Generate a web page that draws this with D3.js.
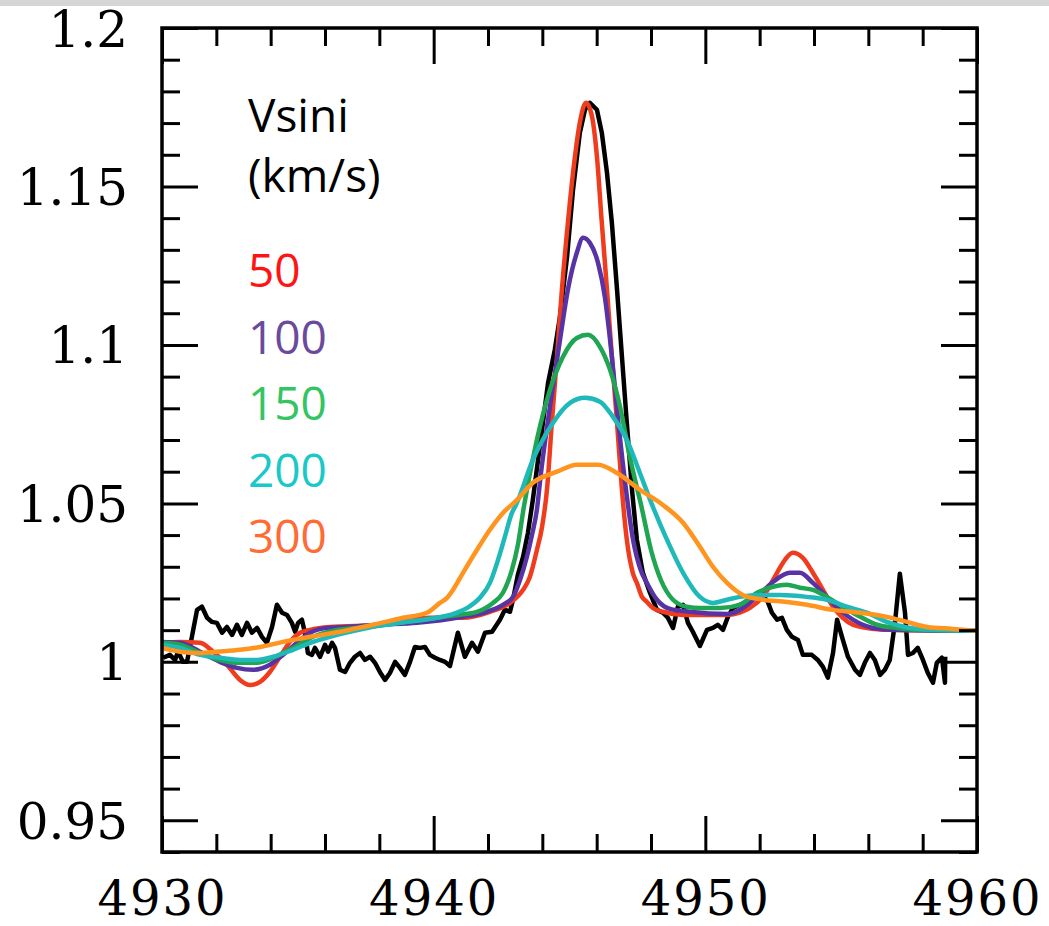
<!DOCTYPE html>
<html>
<head>
<meta charset="utf-8">
<script src="https://cdn.jsdelivr.net/npm/d3@7"></script>
<style>
  html, body { margin: 0; padding: 0; background: #fff; }
  svg { display: block; }
</style>
</head>
<body>
<div id="chart"></div>
<script>
// observed spectrum [wavelength (A), normalised flux]
const observed = [
  [4930.04,1.0013],[4930.29,1.0022],[4930.48,1.0006],[4930.59,1.0032],[4930.77,1.0000],[4930.92,1.0000],
  [4931.10,1.0079],[4931.29,1.0164],[4931.47,1.0174],[4931.66,1.0139],[4931.84,1.0126],[4932.02,1.0123],
  [4932.21,1.0092],[4932.39,1.0110],[4932.58,1.0085],[4932.76,1.0117],[4932.94,1.0085],[4933.13,1.0123],
  [4933.31,1.0092],[4933.50,1.0107],[4933.68,1.0079],[4933.86,1.0060],[4934.05,1.0110],[4934.23,1.0180],
  [4934.42,1.0155],[4934.60,1.0148],[4934.78,1.0123],[4934.90,1.0095],[4935.01,1.0123],[4935.15,1.0133],
  [4935.26,1.0092],[4935.37,1.0028],[4935.52,1.0022],[4935.63,1.0044],[4935.82,1.0016],[4936.00,1.0054],
  [4936.11,1.0032],[4936.26,1.0060],[4936.37,1.0044],[4936.55,0.9975],[4936.74,0.9968],[4936.92,0.9997],
  [4937.10,1.0016],[4937.29,1.0028],[4937.47,1.0006],[4937.66,1.0016],[4937.84,0.9997],[4938.02,0.9968],
  [4938.21,0.9943],[4938.39,0.9965],[4938.58,1.0000],[4938.76,0.9981],[4938.94,0.9959],[4939.13,1.0000],
  [4939.31,1.0047],[4939.50,1.0044],[4939.68,1.0047],[4939.86,1.0022],[4940.05,1.0013],[4940.23,1.0006],
  [4940.42,1.0000],[4940.60,0.9987],[4940.89,1.0092],[4941.15,1.0016],[4941.41,1.0060],[4941.63,1.0032],
  [4941.89,1.0092],[4942.15,1.0095],[4942.44,1.0133],[4942.62,1.0164],[4942.81,1.0158],[4942.92,1.0196],
  [4943.10,1.0275],[4943.29,1.0331],[4943.47,1.0407],[4943.65,1.0511],[4944.02,1.0754],[4944.21,1.0880],
  [4944.46,1.0985],[4944.65,1.1089],[4944.91,1.1278],[4945.13,1.1490],[4945.38,1.1669],[4945.57,1.1742],
  [4945.75,1.1764],[4946.01,1.1742],[4946.19,1.1669],[4946.38,1.1543],[4946.56,1.1385],[4946.75,1.1174],
  [4946.93,1.0963],[4947.11,1.0754],[4947.30,1.0543],[4947.48,1.0385],[4947.70,1.0281],[4947.96,1.0218],
  [4948.22,1.0164],[4948.44,1.0155],[4948.62,1.0139],[4948.81,1.0107],[4948.99,1.0174],[4949.18,1.0180],
  [4949.36,1.0123],[4949.54,1.0095],[4949.80,1.0050],[4950.06,1.0101],[4950.28,1.0107],[4950.46,1.0117],
  [4950.65,1.0101],[4950.83,1.0142],[4951.02,1.0170],[4951.27,1.0180],[4951.53,1.0189],[4951.83,1.0205],
  [4952.12,1.0211],[4952.30,1.0189],[4952.45,1.0155],[4952.64,1.0133],[4952.82,1.0139],[4953.00,1.0101],
  [4953.19,1.0079],[4953.41,1.0069],[4953.59,1.0022],[4953.92,1.0022],[4954.14,1.0006],[4954.33,0.9984],
  [4954.51,0.9950],[4954.70,1.0028],[4954.85,1.0133],[4955.03,1.0079],[4955.25,1.0016],[4955.51,0.9975],
  [4955.69,0.9959],[4955.87,0.9997],[4956.06,1.0028],[4956.24,1.0006],[4956.43,0.9959],[4956.61,0.9975],
  [4956.79,1.0006],[4956.98,1.0123],[4957.16,1.0278],[4957.35,1.0155],[4957.46,1.0022],[4957.64,1.0028],
  [4957.82,1.0044],[4958.01,1.0006],[4958.19,0.9965],[4958.38,0.9934],[4958.52,0.9997],[4958.71,1.0013],
  [4958.82,0.9934],[4958.83,1.0016]
];

// rotationally broadened models
const vsini50 = [
  [4930.00,1.0060],[4930.66,1.0063],[4931.40,1.0060],[4931.88,1.0032],[4932.39,0.9991],[4932.87,0.9943],
  [4933.24,0.9927],[4933.61,0.9937],[4933.97,0.9968],[4934.34,1.0016],[4934.71,1.0063],[4935.08,1.0092],
  [4935.45,1.0101],[4936.18,1.0110],[4938.02,1.0117],[4939.86,1.0139],[4941.08,1.0139],[4942.07,1.0158],
  [4942.81,1.0186],[4943.29,1.0227],[4943.54,1.0268],[4943.80,1.0353],[4943.99,1.0426],[4944.17,1.0543],
  [4944.35,1.0754],[4944.54,1.0963],[4944.72,1.1174],[4944.94,1.1385],[4945.20,1.1594],[4945.38,1.1701],
  [4945.61,1.1764],[4945.83,1.1720],[4946.01,1.1594],[4946.19,1.1385],[4946.38,1.1174],[4946.56,1.0963],
  [4946.75,1.0754],[4946.93,1.0543],[4947.11,1.0385],[4947.33,1.0281],[4947.48,1.0249],[4947.67,1.0205],
  [4947.85,1.0189],[4948.07,1.0170],[4948.44,1.0158],[4949.18,1.0148],[4950.80,1.0148],[4951.27,1.0155],
  [4951.64,1.0170],[4952.12,1.0205],[4952.64,1.0281],[4952.93,1.0322],[4953.22,1.0344],[4953.59,1.0328],
  [4953.96,1.0281],[4954.33,1.0227],[4954.70,1.0174],[4955.06,1.0139],[4955.43,1.0117],[4955.95,1.0107],
  [4956.79,1.0101],[4960.00,1.0098]
];
const vsini100 = [
  [4930.00,1.0063],[4930.66,1.0060],[4931.40,1.0032],[4932.13,1.0000],[4932.76,0.9981],[4933.35,0.9975],
  [4933.97,0.9991],[4934.45,1.0022],[4934.97,1.0060],[4935.45,1.0092],[4936.07,1.0107],[4936.81,1.0110],
  [4937.91,1.0117],[4939.39,1.0123],[4941.08,1.0142],[4941.96,1.0158],[4942.55,1.0180],[4942.92,1.0205],
  [4943.18,1.0259],[4943.43,1.0331],[4943.62,1.0401],[4943.80,1.0480],[4943.95,1.0596],[4944.28,1.0805],
  [4944.65,1.1016],[4944.94,1.1174],[4945.27,1.1291],[4945.50,1.1338],[4945.75,1.1322],[4946.05,1.1259],
  [4946.30,1.1152],[4946.56,1.0963],[4946.80,1.0754],[4947.08,1.0543],[4947.34,1.0385],[4947.62,1.0290],
  [4947.85,1.0249],[4948.22,1.0196],[4948.70,1.0167],[4949.43,1.0158],[4950.80,1.0151],[4951.27,1.0164],
  [4951.90,1.0205],[4952.49,1.0252],[4953.11,1.0281],[4953.48,1.0281],[4953.96,1.0249],[4954.47,1.0205],
  [4954.95,1.0164],[4955.43,1.0133],[4956.17,1.0107],[4956.90,1.0101],[4960.00,1.0098]
];
const vsini150 = [
  [4930.00,1.0060],[4930.66,1.0054],[4931.40,1.0028],[4932.13,1.0006],[4932.87,0.9997],[4933.50,0.9997],
  [4934.09,1.0013],[4934.82,1.0044],[4935.56,1.0079],[4936.44,1.0101],[4937.55,1.0110],[4938.76,1.0123],
  [4940.12,1.0139],[4940.86,1.0148],[4941.59,1.0158],[4942.18,1.0186],[4942.55,1.0218],[4942.88,1.0290],
  [4943.10,1.0369],[4943.32,1.0489],[4943.80,1.0701],[4944.28,1.0858],[4944.76,1.0963],[4945.27,1.1022],
  [4945.68,1.1032],[4946.12,1.0994],[4946.49,1.0922],[4946.86,1.0805],[4947.22,1.0647],[4947.65,1.0489],
  [4948.00,1.0353],[4948.36,1.0259],[4948.81,1.0196],[4949.32,1.0174],[4949.80,1.0170],[4950.54,1.0170],
  [4951.27,1.0180],[4951.90,1.0218],[4952.49,1.0237],[4953.00,1.0243],[4953.48,1.0234],[4953.96,1.0227],
  [4954.47,1.0205],[4954.95,1.0180],[4955.58,1.0148],[4956.32,1.0117],[4957.05,1.0107],[4957.79,1.0101],
  [4960.00,1.0098]
];
const vsini200 = [
  [4930.00,1.0054],[4930.66,1.0044],[4931.40,1.0022],[4932.13,1.0013],[4932.87,1.0006],[4933.50,1.0006],
  [4934.09,1.0016],[4934.82,1.0038],[4935.56,1.0063],[4936.44,1.0085],[4937.55,1.0107],[4938.76,1.0123],
  [4940.12,1.0139],[4940.60,1.0148],[4941.23,1.0170],[4941.70,1.0202],[4942.07,1.0249],[4942.37,1.0322],
  [4942.62,1.0394],[4942.88,1.0470],[4943.03,1.0495],[4943.65,1.0637],[4944.39,1.0754],[4945.02,1.0817],
  [4945.57,1.0833],[4946.12,1.0821],[4946.60,1.0773],[4947.11,1.0701],[4947.59,1.0596],[4948.07,1.0489],
  [4948.59,1.0385],[4949.18,1.0281],[4949.80,1.0205],[4950.28,1.0186],[4950.80,1.0196],[4951.27,1.0205],
  [4952.01,1.0211],[4952.75,1.0211],[4953.74,1.0205],[4954.47,1.0196],[4955.21,1.0174],[4955.95,1.0155],
  [4956.68,1.0126],[4957.53,1.0107],[4958.38,1.0101],[4960.00,1.0098]
];
const vsini300 = [
  [4930.00,1.0044],[4930.66,1.0032],[4931.40,1.0028],[4932.02,1.0032],[4932.87,1.0038],[4933.61,1.0047],
  [4934.45,1.0063],[4935.45,1.0079],[4936.55,1.0095],[4937.77,1.0117],[4938.87,1.0139],[4939.75,1.0155],
  [4940.23,1.0186],[4940.49,1.0202],[4940.71,1.0227],[4941.08,1.0281],[4941.59,1.0353],[4942.07,1.0417],
  [4942.55,1.0470],[4943.07,1.0511],[4943.65,1.0565],[4944.54,1.0600],[4945.27,1.0622],[4946.05,1.0622],
  [4946.75,1.0596],[4947.59,1.0543],[4948.44,1.0495],[4949.18,1.0439],[4949.80,1.0363],[4950.28,1.0300],
  [4950.80,1.0249],[4951.38,1.0211],[4952.12,1.0196],[4953.00,1.0189],[4953.74,1.0180],[4954.70,1.0164],
  [4955.69,1.0155],[4956.68,1.0142],[4957.42,1.0126],[4958.16,1.0110],[4959.11,1.0104],[4960.00,1.0098]
];

const vsiniLabels = ["50", "100", "150", "200", "300"];
const models = [vsini50, vsini100, vsini150, vsini200, vsini300];
const lineColors = ["#f03c1e", "#5833a6", "#20a553", "#20b9b9", "#ff951f"];
const textColors = ["#ff1414", "#6a4a9c", "#33c463", "#19c8c8", "#ff6a35"];

const xTicksMajor = [4930, 4940, 4950, 4960];
const yTicksMajor = [0.95, 1, 1.05, 1.1, 1.15, 1.2];

const W = 1049, H = 926;
const mLeft = 162, mRight = 977, mTop = 28, mBottom = 852;

const svg = d3.select("#chart").append("svg")
  .attr("width", W)
  .attr("height", H);

// light textured strip at the very top of the picture
svg.append("rect").attr("x", 0).attr("y", 0).attr("width", W).attr("height", 6).attr("fill", "#d6d6d6");

const x = d3.scaleLinear().domain([4930, 4960]).range([mLeft, mRight]);
const y = d3.scaleLinear().domain([0.94, 1.2]).range([mBottom, mTop]);

const xMinor = d3.range(4932, 4960, 2).filter(d => d % 10 !== 0);
const yMinor = d3.range(94, 121, 1).filter(d => d % 5 !== 0).map(d => d / 100);

const serif = "'DejaVu Serif', serif";

// lines
const line = d3.line().x(d => x(d[0])).y(d => y(d[1]));
const smooth = d3.line().x(d => x(d[0])).y(d => y(d[1])).curve(d3.curveMonotoneX);

const plot = svg.append("g");
plot.append("path")
  .datum(observed)
  .attr("fill", "none")
  .attr("stroke", "#000")
  .attr("stroke-width", 4.5)
  .attr("stroke-linejoin", "round")
  .attr("d", line);

models.forEach((m, i) => {
  plot.append("path")
    .datum(m)
    .attr("fill", "none")
    .attr("stroke", lineColors[i])
    .attr("stroke-width", 4.5)
    .attr("stroke-linejoin", "round")
    .attr("d", smooth);
});

// axes: ticks point inward on all four sides
function styleAxis(g) {
  g.select(".domain").remove();
  g.selectAll(".tick line").attr("stroke", "#000").attr("stroke-width", 3);
}

svg.append("g").attr("transform", `translate(0,${mBottom})`)
  .call(d3.axisBottom(x).tickValues(xTicksMajor).tickSize(-36).tickPadding(29).tickFormat(d3.format("d")))
  .call(styleAxis)
  .call(g => g.selectAll("text").attr("font-family", serif).attr("font-size", 48).attr("fill", "#000").attr("letter-spacing", 2));
svg.append("g").attr("transform", `translate(0,${mBottom})`)
  .call(d3.axisBottom(x).tickValues(xMinor).tickSize(-18).tickFormat(""))
  .call(styleAxis);
svg.append("g").attr("transform", `translate(0,${mTop})`)
  .call(d3.axisTop(x).tickValues(xTicksMajor).tickSize(-36).tickFormat(""))
  .call(styleAxis);
svg.append("g").attr("transform", `translate(0,${mTop})`)
  .call(d3.axisTop(x).tickValues(xMinor).tickSize(-18).tickFormat(""))
  .call(styleAxis);

svg.append("g").attr("transform", `translate(${mLeft},0)`)
  .call(d3.axisLeft(y).tickValues(yTicksMajor).tickSize(-36).tickPadding(34)
    .tickFormat(d => String(+d.toFixed(2))))
  .call(styleAxis)
  .call(g => g.selectAll("text").attr("font-family", serif).attr("font-size", 50).attr("fill", "#000").attr("dy", "0.36em"));
svg.append("g").attr("transform", `translate(${mLeft},0)`)
  .call(d3.axisLeft(y).tickValues(yMinor).tickSize(-18).tickFormat(""))
  .call(styleAxis);
svg.append("g").attr("transform", `translate(${mRight},0)`)
  .call(d3.axisRight(y).tickValues(yTicksMajor).tickSize(-36).tickFormat(""))
  .call(styleAxis);
svg.append("g").attr("transform", `translate(${mRight},0)`)
  .call(d3.axisRight(y).tickValues(yMinor).tickSize(-18).tickFormat(""))
  .call(styleAxis);

// frame
svg.append("rect")
  .attr("x", mLeft).attr("y", mTop)
  .attr("width", mRight - mLeft).attr("height", mBottom - mTop)
  .attr("fill", "none").attr("stroke", "#000").attr("stroke-width", 3.5);

// legend
const legendFont = "'Open Sans', 'Noto Sans', sans-serif";
const legend = svg.append("g").attr("font-family", legendFont).attr("font-size", 46).attr("font-weight", 500);
legend.append("text").attr("x", 248).attr("y", 132).attr("fill", "#000").text("Vsini");
legend.append("text").attr("x", 248).attr("y", 192).attr("fill", "#000").text("(km/s)");
legend.selectAll("text.v")
  .data(vsiniLabels)
  .join("text")
  .attr("class", "v")
  .attr("x", 248)
  .attr("y", (d, i) => 287 + i * 66.5)
  .attr("fill", (d, i) => textColors[i])
  .text(d => d);
</script>
</body>
</html>
